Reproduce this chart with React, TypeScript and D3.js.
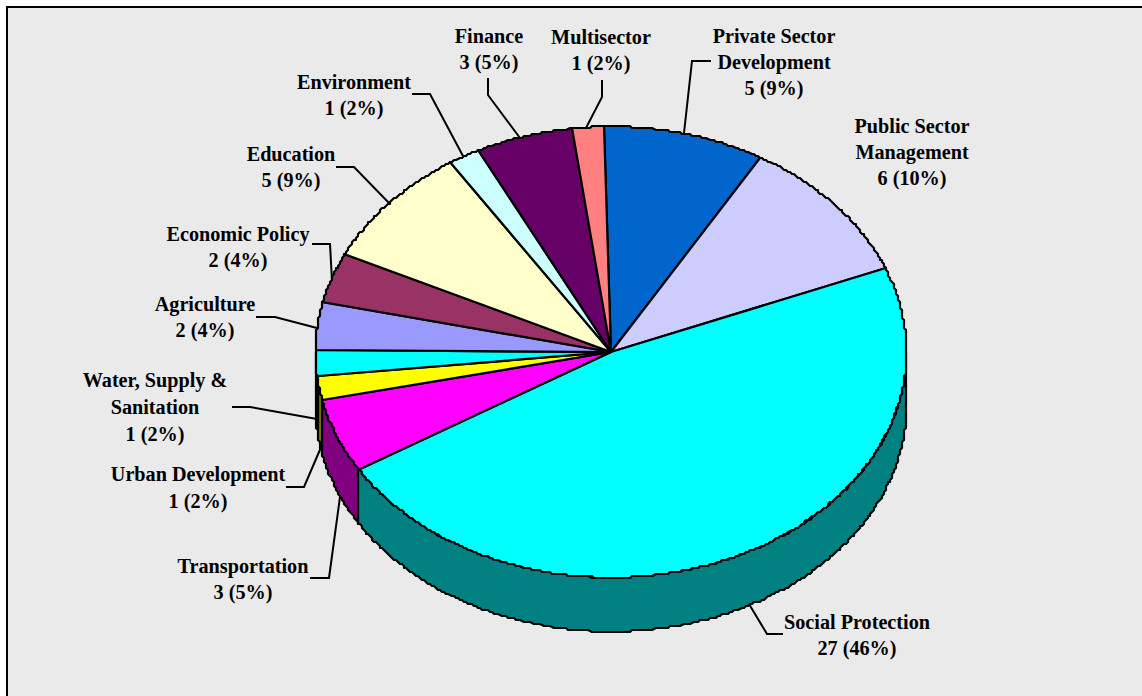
import React from "react";
import * as d3 from "d3";

// Project counts per sector, clockwise from the top of the pie.
const sectors = [
  "Private Sector Development",
  "Public Sector Management",
  "Social Protection",
  "Transportation",
  "Urban Development",
  "Water, Supply & Sanitation",
  "Agriculture",
  "Economic Policy",
  "Education",
  "Environment",
  "Finance",
  "Multisector",
];
const counts = [5, 6, 27, 3, 1, 1, 2, 2, 5, 1, 3, 1];
const topColors = [
  "#0066CC", "#CCCCFF", "#00FFFF", "#FF00FF", "#FFFF00", "#00FFFF",
  "#9999FF", "#993366", "#FFFFCC", "#CCFFFF", "#660066", "#FF8080",
];
const wallColors = [
  "#003366", "#666680", "#008080", "#800080", "#808000", "#008080",
  "#4D4D80", "#4D1A33", "#808066", "#668080", "#330033", "#804040",
];

// Label lines and their anchor (centre x, first baseline y, line spacing).
const labelLines = [
  ["Private Sector", "Development", "5 (9%)"],
  ["Public Sector", "Management", "6 (10%)"],
  ["Social Protection", "27 (46%)"],
  ["Transportation", "3 (5%)"],
  ["Urban Development", "1 (2%)"],
  ["Water, Supply &", "Sanitation", "1 (2%)"],
  ["Agriculture", "2 (4%)"],
  ["Economic Policy", "2 (4%)"],
  ["Education", "5 (9%)"],
  ["Environment", "1 (2%)"],
  ["Finance", "3 (5%)"],
  ["Multisector", "1 (2%)"],
];
const labelAnchors = [
  [774, 43, 26], [912, 133, 26], [857, 629, 26], [243, 573, 26], [198, 481, 26.5], [155, 387, 27],
  [205, 311, 26], [238, 241, 26], [291, 161, 26], [354, 89, 26], [489, 43, 26], [601, 44, 26],
];
const leaders = [
  [[684, 133], [692, 61], [711, 61]],
  [],
  [[749, 604], [767, 634], [783, 634]],
  [[340, 497], [329, 578], [310, 578]],
  [[322, 445], [304, 487], [286, 487]],
  [[317, 419], [250, 407], [232, 407]],
  [[317, 328], [275, 317], [256, 317]],
  [[332, 281], [330, 244], [312, 244]],
  [[389, 203], [354, 167], [336, 167]],
  [[463, 156], [430, 94], [412, 94]],
  [[520, 138], [488, 95], [488, 78]],
  [[586, 128], [602, 97], [602, 80]],
];

const WIDTH = 1142;
const HEIGHT = 696;
const CX = 611;
const CY = 352;
const RX = 295.5;
const RY = 225.5;
const DEPTH = 54;

const x = d3.scaleLinear().domain([-1, 1]).range([CX - RX, CX + RX]);
const y = d3.scaleLinear().domain([-1, 1]).range([CY + RY, CY - RY]);

// Outline vertices sit on a coarse device grid, which gives the edge its stepped look.
const snap = (v: number) => Math.round(v / 2) * 2;
const toPoint = (a: number, drop = 0): [number, number] => [
  snap(x(Math.sin(a))),
  snap(y(Math.cos(a))) + drop,
];
const arcPoints = (a0: number, a1: number, drop = 0) =>
  d3.range(0, 1.0001, 1 / Math.max(2, Math.ceil(((a1 - a0) * 180) / Math.PI / 0.5))).map((t) =>
    toPoint(a0 + (a1 - a0) * t, drop),
  );

const rotation = (-1.3 * Math.PI) / 180;
const slices = d3
  .pie<number>()
  .sort(null)
  .startAngle(rotation)
  .endAngle(rotation + 2 * Math.PI)(counts);

const line = d3.line();
const centre: [number, number] = [x(0), y(0)];

export default function App() {
  // Only the part of each slice facing the viewer (between 90° and 270°) has a wall.
  const walls = slices
    .map((s, i) => {
      const a0 = Math.max(s.startAngle, Math.PI / 2);
      const a1 = Math.min(s.endAngle, (3 * Math.PI) / 2);
      if (a1 <= a0) return null;
      const upper = arcPoints(a0, a1);
      const lower = arcPoints(a0, a1, DEPTH).reverse();
      return <path key={i} d={line([...upper, ...lower])! + "Z"} fill={wallColors[i]} stroke="#000" strokeWidth={2.2} strokeLinejoin="round" />;
    })
    .filter(Boolean);

  return (
    <svg
      width={WIDTH}
      height={HEIGHT}
      style={{ position: "absolute", left: 0, top: 0, display: "block" }}
      fontFamily="'Liberation Serif', serif"
      fontWeight="bold"
      fontSize={20.2}
    >
      <rect x={0} y={0} width={WIDTH} height={HEIGHT} fill="#fff" />
      <rect x={7} y={7} width={WIDTH} height={HEIGHT} fill="#EAEAEA" stroke="#000" strokeWidth={2} />
      {leaders.map((pts, i) =>
        pts.length ? (
          <path key={i} d={line(pts as [number, number][])!} fill="none" stroke="#000" strokeWidth={2} />
        ) : null,
      )}
      {walls}
      {slices.map((s, i) => (
        <path
          key={sectors[i]}
          d={line([centre, ...arcPoints(s.startAngle, s.endAngle)])! + "Z"}
          fill={topColors[i]}
          stroke="#000"
          strokeWidth={2.2}
          strokeLinejoin="round"
        />
      ))}
      {labelLines.map((rows, i) => (
        <text key={i} textAnchor="middle" fill="#000">
          {rows.map((r, j) => (
            <tspan key={j} x={labelAnchors[i][0]} y={labelAnchors[i][1] + j * labelAnchors[i][2]}>
              {r}
            </tspan>
          ))}
        </text>
      ))}
    </svg>
  );
}
